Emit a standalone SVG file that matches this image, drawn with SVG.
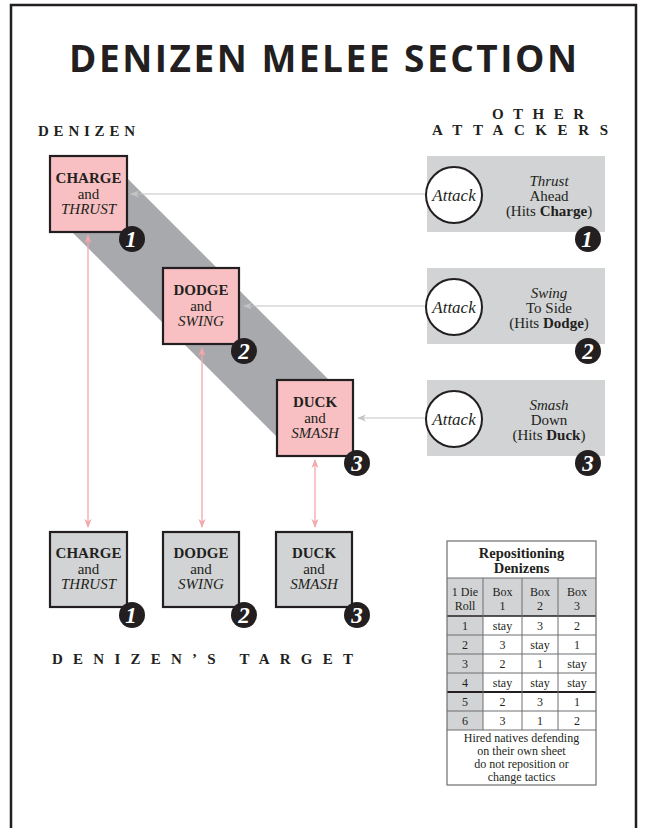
<svg xmlns="http://www.w3.org/2000/svg" width="646" height="828" viewBox="0 0 646 828">
<defs>
<style>
.bt{font-family:"Liberation Serif",serif;font-weight:bold;font-size:15px;fill:#231f20;text-anchor:middle}
.nt{font-family:"Liberation Serif",serif;font-size:15px;fill:#231f20;text-anchor:middle}
.it{font-family:"Liberation Serif",serif;font-style:italic;font-size:15px;fill:#231f20;text-anchor:middle}
.lbl{font-family:"Liberation Serif",serif;font-weight:bold;font-size:15px;fill:#231f20}
.pink{fill:#f8c0c2;stroke:#231f20;stroke-width:2.2}
.gbox{fill:#d1d3d4;stroke:#231f20;stroke-width:2.2}
.abox{fill:#d1d3d4}
.acirc{fill:#fff;stroke:#231f20;stroke-width:2}
.badge{fill:#231f20}
.num{font-family:"Liberation Serif",serif;font-weight:bold;font-style:italic;font-size:23px;fill:#fff;text-anchor:middle}
.garrow{stroke:#c4c4c4;stroke-width:1.2;fill:none}
.parrow{stroke:#f4a7ae;stroke-width:1.3;fill:none}
.tc{font-family:"Liberation Serif",serif;font-size:12px;fill:#231f20;text-anchor:middle}
.tb{font-family:"Liberation Serif",serif;font-weight:bold;font-size:14.5px;fill:#231f20;text-anchor:middle}
.tline{stroke:#6d6e71;stroke-width:1}
</style>
<marker id="ga" viewBox="0 0 10 10" refX="9" refY="5" markerWidth="9" markerHeight="9" markerUnits="userSpaceOnUse" orient="auto">
<path d="M0,1 L10,5 L0,9 L3,5 z" fill="#c4c4c4"/>
</marker>
<marker id="pa" viewBox="0 0 10 10" refX="9" refY="5" markerWidth="9" markerHeight="9" markerUnits="userSpaceOnUse" orient="auto-start-reverse">
<path d="M0,1 L10,5 L0,9 L3,5 z" fill="#f4a7ae"/>
</marker>
</defs>
<rect x="0" y="0" width="646" height="828" fill="#fff"/>
<path d="M11,828 V5 H636 V828" fill="none" stroke="#231f20" stroke-width="2.5"/>

<text x="323" y="72" text-anchor="middle" textLength="508" lengthAdjust="spacing" style="font-family:'Open Sans','DejaVu Sans',sans-serif;font-weight:bold;font-size:37px;fill:#231f20">DENIZEN MELEE SECTION</text>

<text class="lbl" x="38" y="136" textLength="97" lengthAdjust="spacing">DENIZEN</text>
<text class="lbl" x="492" y="119" textLength="92" lengthAdjust="spacing">OTHER</text>
<text class="lbl" x="432" y="135" textLength="176" lengthAdjust="spacing">ATTACKERS</text>
<text class="lbl" x="52" y="664" textLength="301" lengthAdjust="spacing">DENIZEN’S TARGET</text>

<polygon points="115,166 333,384 280,440 60,220" fill="#a7a9ac"/>

<g id="connectors">
<line class="garrow" x1="425" y1="194" x2="131" y2="194" marker-end="url(#ga)"/>
<line class="garrow" x1="425" y1="306" x2="244" y2="306" marker-end="url(#ga)"/>
<line class="garrow" x1="425" y1="418" x2="358" y2="418" marker-end="url(#ga)"/>
<line class="parrow" x1="88" y1="235" x2="88" y2="527" marker-start="url(#pa)" marker-end="url(#pa)"/>
<line class="parrow" x1="202" y1="348" x2="202" y2="527" marker-start="url(#pa)" marker-end="url(#pa)"/>
<line class="parrow" x1="315" y1="460" x2="315" y2="527" marker-start="url(#pa)" marker-end="url(#pa)"/>
</g>

<g id="denizen1">
<rect class="pink" x="50" y="156" width="77" height="76"/>
<text class="bt" x="88.5" y="183">CHARGE</text>
<text class="nt" x="88.5" y="199">and</text>
<text class="it" x="88.5" y="214">THRUST</text>
<circle class="badge" cx="132" cy="239" r="13"/><text class="num" x="131" y="247">1</text>
</g>
<g id="denizen2">
<rect class="pink" x="163" y="268" width="76" height="76"/>
<text class="bt" x="201" y="295">DODGE</text>
<text class="nt" x="201" y="311">and</text>
<text class="it" x="201" y="326">SWING</text>
<circle class="badge" cx="244" cy="351" r="13"/><text class="num" x="244" y="359">2</text>
</g>
<g id="denizen3">
<rect class="pink" x="277" y="380" width="76" height="76"/>
<text class="bt" x="315" y="407">DUCK</text>
<text class="nt" x="315" y="423">and</text>
<text class="it" x="315" y="438">SMASH</text>
<circle class="badge" cx="357" cy="463" r="13"/><text class="num" x="357" y="471">3</text>
</g>

<g id="attacker1">
<rect class="abox" x="427" y="156" width="178" height="76"/>
<circle class="acirc" cx="454" cy="195" r="28"/>
<text class="it" x="454" y="201" style="font-size:17px">Attack</text>
<text class="it" x="549" y="186">Thrust</text>
<text class="nt" x="549" y="201">Ahead</text>
<text class="nt" x="549" y="216">(Hits <tspan font-weight="bold">Charge</tspan>)</text>
<circle class="badge" cx="588" cy="239" r="13"/><text class="num" x="587" y="247">1</text>
</g>
<g id="attacker2">
<rect class="abox" x="427" y="268" width="178" height="76"/>
<circle class="acirc" cx="454" cy="307" r="28"/>
<text class="it" x="454" y="313" style="font-size:17px">Attack</text>
<text class="it" x="549" y="298">Swing</text>
<text class="nt" x="549" y="313">To Side</text>
<text class="nt" x="549" y="328">(Hits <tspan font-weight="bold">Dodge</tspan>)</text>
<circle class="badge" cx="588" cy="351" r="13"/><text class="num" x="588" y="359">2</text>
</g>
<g id="attacker3">
<rect class="abox" x="427" y="380" width="178" height="76"/>
<circle class="acirc" cx="454" cy="419" r="28"/>
<text class="it" x="454" y="425" style="font-size:17px">Attack</text>
<text class="it" x="549" y="410">Smash</text>
<text class="nt" x="549" y="425">Down</text>
<text class="nt" x="549" y="440">(Hits <tspan font-weight="bold">Duck</tspan>)</text>
<circle class="badge" cx="588" cy="463" r="13"/><text class="num" x="588" y="471">3</text>
</g>

<g id="target1">
<rect class="gbox" x="50" y="532" width="77" height="75"/>
<text class="bt" x="88.5" y="558">CHARGE</text>
<text class="nt" x="88.5" y="574">and</text>
<text class="it" x="88.5" y="589">THRUST</text>
<circle class="badge" cx="132" cy="615" r="13"/><text class="num" x="131" y="623">1</text>
</g>
<g id="target2">
<rect class="gbox" x="163" y="532" width="76" height="75"/>
<text class="bt" x="201" y="558">DODGE</text>
<text class="nt" x="201" y="574">and</text>
<text class="it" x="201" y="589">SWING</text>
<circle class="badge" cx="244" cy="615" r="13"/><text class="num" x="244" y="623">2</text>
</g>
<g id="target3">
<rect class="gbox" x="276" y="532" width="76" height="75"/>
<text class="bt" x="314" y="558">DUCK</text>
<text class="nt" x="314" y="574">and</text>
<text class="it" x="314" y="589">SMASH</text>
<circle class="badge" cx="357" cy="615" r="13"/><text class="num" x="357" y="623">3</text>
</g>

<g id="table">
<rect x="447" y="541" width="149" height="244" fill="#fff"/>
<rect x="447" y="578" width="149" height="38" fill="#d1d3d4"/>
<rect x="447" y="616" width="36" height="114" fill="#d1d3d4"/>
<text class="tb" x="521.5" y="558">Repositioning</text>
<text class="tb" x="521.5" y="573">Denizens</text>
<text class="tc" x="465" y="596">1 Die</text><text class="tc" x="465" y="610">Roll</text>
<text class="tc" x="502.5" y="596">Box</text><text class="tc" x="502.5" y="610">1</text>
<text class="tc" x="540" y="596">Box</text><text class="tc" x="540" y="610">2</text>
<text class="tc" x="577" y="596">Box</text><text class="tc" x="577" y="610">3</text>
<g>
<text class="tc" x="465" y="630">1</text><text class="tc" x="502.5" y="630">stay</text><text class="tc" x="540" y="630">3</text><text class="tc" x="577" y="630">2</text>
<text class="tc" x="465" y="649">2</text><text class="tc" x="502.5" y="649">3</text><text class="tc" x="540" y="649">stay</text><text class="tc" x="577" y="649">1</text>
<text class="tc" x="465" y="668">3</text><text class="tc" x="502.5" y="668">2</text><text class="tc" x="540" y="668">1</text><text class="tc" x="577" y="668">stay</text>
<text class="tc" x="465" y="687">4</text><text class="tc" x="502.5" y="687">stay</text><text class="tc" x="540" y="687">stay</text><text class="tc" x="577" y="687">stay</text>
<text class="tc" x="465" y="706">5</text><text class="tc" x="502.5" y="706">2</text><text class="tc" x="540" y="706">3</text><text class="tc" x="577" y="706">1</text>
<text class="tc" x="465" y="725">6</text><text class="tc" x="502.5" y="725">3</text><text class="tc" x="540" y="725">1</text><text class="tc" x="577" y="725">2</text>
</g>
<text class="tc" x="521.5" y="742">Hired natives defending</text>
<text class="tc" x="521.5" y="755">on their own sheet</text>
<text class="tc" x="521.5" y="768">do not reposition or</text>
<text class="tc" x="521.5" y="781">change tactics</text>
<g class="tline">
<line x1="447" y1="578" x2="596" y2="578"/>
<line x1="447" y1="616" x2="596" y2="616" stroke="#231f20" stroke-width="1.5"/>
<line x1="447" y1="635" x2="596" y2="635"/>
<line x1="447" y1="654" x2="596" y2="654"/>
<line x1="447" y1="673" x2="596" y2="673"/>
<line x1="447" y1="692" x2="596" y2="692" stroke="#231f20" stroke-width="2"/>
<line x1="447" y1="711" x2="596" y2="711"/>
<line x1="447" y1="730" x2="596" y2="730"/>
<line x1="483" y1="578" x2="483" y2="730"/>
<line x1="522" y1="578" x2="522" y2="730"/>
<line x1="558" y1="578" x2="558" y2="730"/>
</g>
<rect x="447" y="541" width="149" height="244" fill="none" stroke="#6d6e71" stroke-width="1.2"/>
</g>
</svg>
